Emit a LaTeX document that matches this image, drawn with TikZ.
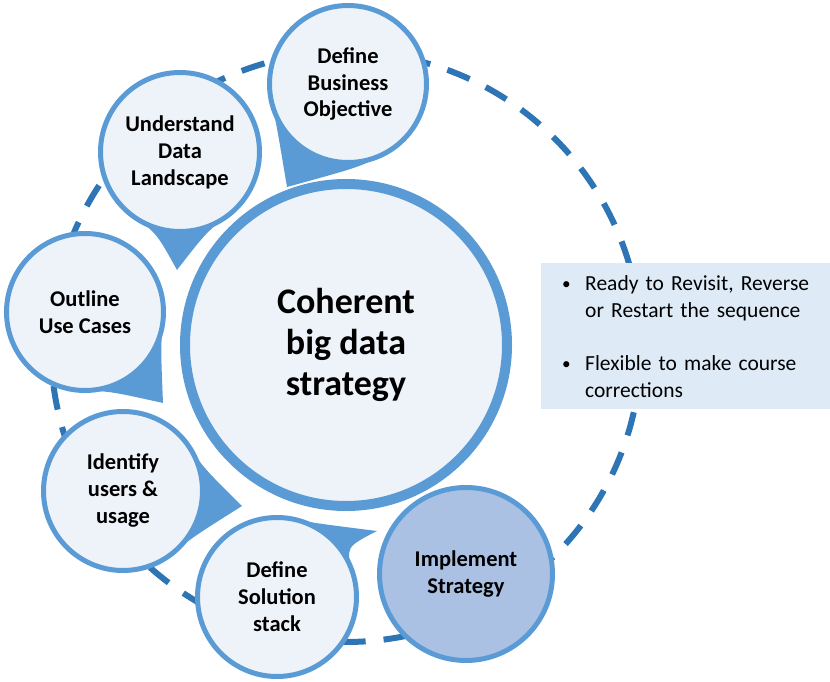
\documentclass[tikz,border=0pt]{standalone}
\usepackage{fontspec}
\setmainfont{Carlito}
\usetikzlibrary{calc}
\definecolor{ringblue}{RGB}{46,117,182}
\definecolor{edgeblue}{RGB}{91,155,213}
\definecolor{bubfill}{RGB}{238,243,250}
\definecolor{implfill}{RGB}{170,193,228}
\definecolor{boxfill}{RGB}{222,235,247}

\tikzset{
  bubble/.style={circle, draw=edgeblue, line width=5pt, fill=bubfill, align=center,
    inner sep=0pt, font=\bfseries\fontsize{22.5}{27}\selectfont},
  corebubble/.style={bubble, line width=10pt, font=\bfseries\fontsize{36}{41}\selectfont},
  ring/.style={ringblue, line width=6pt, dash pattern=on 24pt off 18pt},
  infobox/.style={fill=boxfill, anchor=north west, minimum height=146pt, text width=265pt,
    inner xsep=21pt, align=left, font=\fontsize{21.5}{27}\selectfont},
}
% tail of a callout: centre, radius, from angle, to angle, tip
\newcommand{\calltail}[5]{%
  \fill[edgeblue] ($(#1)+(#3:#2)$) .. controls ($(#1)+(#3+20:#2*1.064)$) .. (#5)
    .. controls ($(#1)+(#4-20:#2*1.064)$) .. ($(#1)+(#4:#2)$) -- cycle;}
\newcommand{\dotitem}{\makebox[23pt][l]{\raisebox{1pt}{\scalebox{0.8}{\textbullet}}}}

\begin{document}
\begin{tikzpicture}[x=1pt,y=1pt]
    \useasboundingbox (0,0) rectangle (830,682);

    \coordinate (ringc)  at (346,335);
    \coordinate (objc)   at (348,598);
    \coordinate (landc)  at (180,530);
    \coordinate (casesc) at (85,370);
    \coordinate (usersc) at (123,191);
    \coordinate (stackc) at (277,85);
    \coordinate (objtip)   at (287,495);
    \coordinate (landtip)  at (177,412);
    \coordinate (casestip) at (163,279);
    \coordinate (userstip) at (242,176);
    \coordinate (stacktip) at (377,151);

    \draw[ring] (ringc) circle (295); % the loop behind the steps

    % callout tails, under the bubbles
    \calltail{objc}{78.5}{192}{300}{objtip}
    \calltail{landc}{79.5}{234}{308}{landtip}
    \calltail{casesc}{78.5}{268}{355}{casestip}
    \calltail{usersc}{79.5}{308}{395}{userstip}
    \calltail{stackc}{79.5}{16}{80}{stacktip}

    \node[corebubble, minimum size=322pt] (core) at (346,337) {Coherent\\big data\\strategy};
    \node[bubble, minimum size=157pt] (obj) at (objc) {Define\\Business\\Objective};
    \node[bubble, minimum size=159pt] (land) at (landc) {Understand\\Data\\Landscape};
    \node[bubble, minimum size=157pt] (cases) at (casesc) {Outline\\Use Cases};
    \node[bubble, minimum size=159pt] (users) at (usersc) {Identify\\users \&\\usage};
    \node[bubble, minimum size=159pt] (stack) at (stackc) {Define\\Solution\\stack};
    \node[bubble, minimum size=173pt, fill=implfill] (impl) at (466,108) {Implement\\Strategy};

    \node[infobox] (notes) at (541,419) {%
      \dotitem Ready to Revisit, Reverse\\
      \hspace*{23pt}or Restart the sequence\\[26pt]
      \dotitem Flexible to make course\\
      \hspace*{23pt}corrections};
\end{tikzpicture}
\end{document}
